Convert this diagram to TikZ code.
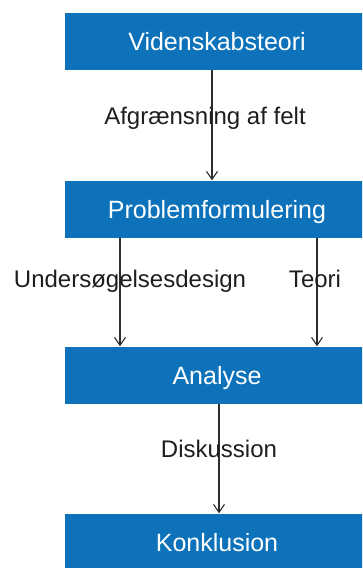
\documentclass[tikz,border=0pt]{standalone}
\usepackage{fontspec}
\setmainfont{Liberation Sans}
\usetikzlibrary{arrows.meta}
\definecolor{boxblue}{RGB}{14,114,186}
\definecolor{inkgray}{RGB}{30,30,30}
\definecolor{linegray}{RGB}{45,45,45}
\begin{document}
\begin{tikzpicture}[x=1pt,y=-1pt,
  stage/.style={rectangle, fill=boxblue, text=white, inner sep=0pt,
    minimum width=304pt, minimum height=57pt, text height=18pt, text depth=0pt,
    font=\fontsize{25}{30}\selectfont},
  flowlabel/.style={anchor=base, inner sep=0pt, text=inkgray,
    font=\fontsize{24}{28}\selectfont},
  flowarrow/.style={draw=linegray, line width=1.1pt,
    -{Straight Barb[length=8pt,width=11pt,line width=1.1pt]}}]
\useasboundingbox (0,0) rectangle (362,568);
\clip (0,0) rectangle (362,568);
\fill[white] (0,0) rectangle (362,568);

% stages of the process
\node[stage] (vid) at (217,41) {Videnskabsteori};
\node[stage] (prob) at (217,209) {Problemformulering};
\node[stage] (ana) at (217,375) {Analyse};
\node[stage] (kon) at (217,542) {Konklusion};

% connectors
\draw[flowarrow] ([xshift=-5pt]vid.south) -- ([xshift=-5pt]prob.north);
\draw[flowarrow] ([xshift=-97pt]prob.south) -- ([xshift=-97pt]ana.north);
\draw[flowarrow] ([xshift=100pt]prob.south) -- ([xshift=100pt]ana.north);
\draw[flowarrow] ([xshift=2pt]ana.south) -- ([xshift=2pt]kon.north);

% connector labels
\node[flowlabel] (l1) at (205,124) {Afgrænsning af felt};
\node[flowlabel] (l2) at (130,287) {Undersøgelsesdesign};
\node[flowlabel] (l3) at (315,287) {Teori};
\node[flowlabel] (l4) at (219,457) {Diskussion};
\end{tikzpicture}
\end{document}
